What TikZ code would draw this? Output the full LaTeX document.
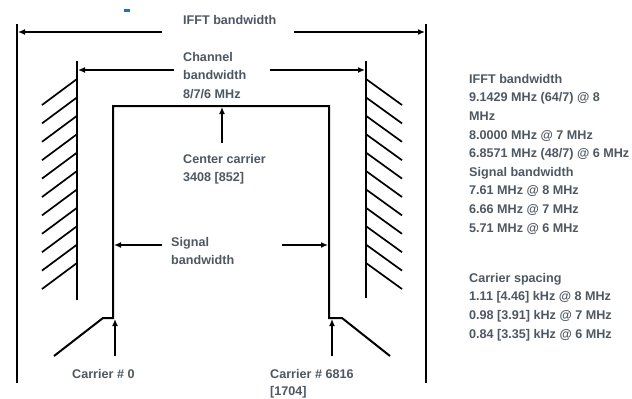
\documentclass[tikz,border=0pt]{standalone}
\usepackage{fontspec}
\setmainfont{Liberation Sans}
\usetikzlibrary{arrows.meta}
\definecolor{txt}{RGB}{78,88,98}
\definecolor{blip}{RGB}{40,110,190}
\begin{document}
\begin{tikzpicture}[x=1pt,y=-1pt,
  ln/.style={line width=2pt},
  arr/.style={line width=2pt,-{Latex[length=7pt,width=6pt]}},
  hatchline/.style={line width=1.7pt},
  lbl/.style={anchor=north west, inner sep=0pt, text=txt, align=left,
    font=\bfseries\fontsize{12.6}{18.6}\selectfont}]
\useasboundingbox[fill=white] (0,0) rectangle (632,399);
\fill[blip] (124,8.5) rectangle (130,11.5);
% outer IFFT limits
\coordinate (oLt) at (17,24); \coordinate (oLb) at (17,383);
\coordinate (oRt) at (426,24); \coordinate (oRb) at (426,383);
\draw[ln] (oLt) -- (oLb);
\draw[ln] (oRt) -- (oRb);
% channel limits
\coordinate (cLt) at (77,61); \coordinate (cLb) at (77,300);
\coordinate (cRt) at (366,61); \coordinate (cRb) at (366,298);
\draw[ln] (cLt) -- (cLb);
\draw[ln] (cRt) -- (cRb);
% hatching
\foreach \i in {0,...,10}{
  \draw[hatchline] (42,105+18.4*\i) -- (77,79+18.4*\i);
  \draw[hatchline] (366,79+18.4*\i) -- (402,105+18.4*\i);
}
% signal spectrum
\coordinate (sL0) at (54,356); \coordinate (sL1) at (103,318);
\coordinate (sL2) at (113,318); \coordinate (sL3) at (113,106);
\coordinate (sR3) at (329,106); \coordinate (sR2) at (329,318);
\coordinate (sR1) at (342,318); \coordinate (sR0) at (390,356);
\draw[ln] (sL0) -- (sL1) -- (sL2) -- (sL3) -- (sR3) -- (sR2) -- (sR1) -- (sR0);
% texts
\node[lbl] (tifft) at (183,15) {IFFT bandwidth};
\node[lbl] (tchan) at (183,52) {Channel\\bandwidth\\8/7/6 MHz};
\node[lbl] (tcent) at (183,154) {Center carrier\\3408 [852]};
\node[lbl] (tsig) at (171,237) {Signal\\bandwidth};
\node[lbl] (tc0) at (72,369) {Carrier \# 0};
\node[lbl, font=\bfseries\fontsize{12.6}{17.5}\selectfont] (tc1) at (270,369) {Carrier \# 6816\\{[1704]}};
\node[lbl] (tright) at (469,74) {IFFT bandwidth\\9.1429 MHz (64/7) @ 8\\MHz\\8.0000 MHz @ 7 MHz\\6.8571 MHz (48/7) @ 6 MHz\\Signal bandwidth\\7.61 MHz @ 8 MHz\\6.66 MHz @ 7 MHz\\5.71 MHz @ 6 MHz};
\node[lbl] (tspace) at (469,273) {Carrier spacing\\1.11 [4.46] kHz @ 8 MHz\\0.98 [3.91] kHz @ 7 MHz\\0.84 [3.35] kHz @ 6 MHz};
% arrows
\coordinate (a1s) at (162,32); \coordinate (a1e) at (18,32);
\coordinate (a2s) at (294,32); \coordinate (a2e) at (425,32);
\draw[arr] (a1s) -- (a1e);
\draw[arr] (a2s) -- (a2e);
\coordinate (b1s) at (174,70); \coordinate (b1e) at (78,70);
\coordinate (b2s) at (270,70); \coordinate (b2e) at (365,70);
\draw[arr] (b1s) -- (b1e);
\draw[arr] (b2s) -- (b2e);
\coordinate (ccs) at (222,143); \coordinate (cce) at (222,107);
\draw[arr] (ccs) -- (cce);
\coordinate (d1s) at (162,245); \coordinate (d1e) at (114,245);
\coordinate (d2s) at (282,245); \coordinate (d2e) at (328,245);
\draw[arr] (d1s) -- (d1e);
\draw[arr] (d2s) -- (d2e);
\coordinate (e1s) at (115,356); \coordinate (e1e) at (115,319);
\coordinate (e2s) at (332,356); \coordinate (e2e) at (332,319);
\draw[arr] (e1s) -- (e1e);
\draw[arr] (e2s) -- (e2e);
\end{tikzpicture}
\end{document}
